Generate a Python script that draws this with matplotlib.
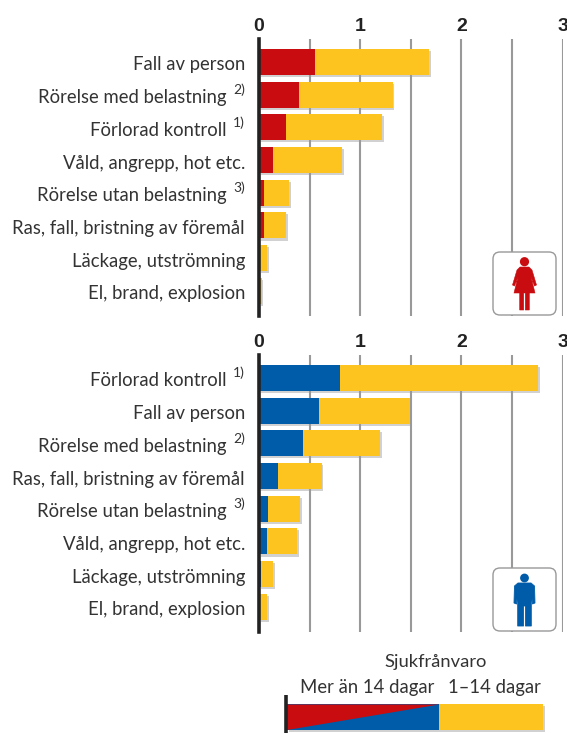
import matplotlib
matplotlib.use('Agg')
import matplotlib.pyplot as plt
import matplotlib.patheffects as pe
from matplotlib.patches import FancyBboxPatch, Circle, Polygon
import numpy as np

plt.rcParams['font.family'] = ['Lato', 'DejaVu Sans']

# kvinnor
labels_w = ['Fall av person', 'Rörelse med belastning', 'Förlorad kontroll',
            'Våld, angrepp, hot etc.', 'Rörelse utan belastning',
            'Ras, fall, bristning av föremål', 'Läckage, utströmning',
            'El, brand, explosion']
notes_w = ['', '2)', '1)', '', '3)', '', '', '']
long_w = [0.555, 0.40, 0.27, 0.14, 0.05, 0.05, 0.01, 0.005]
total_w = [1.68, 1.32, 1.22, 0.82, 0.30, 0.27, 0.08, 0.025]

# män
labels_m = ['Förlorad kontroll', 'Fall av person', 'Rörelse med belastning',
            'Ras, fall, bristning av föremål', 'Rörelse utan belastning',
            'Våld, angrepp, hot etc.', 'Läckage, utströmning',
            'El, brand, explosion']
notes_m = ['1)', '', '2)', '', '3)', '', '', '']
long_m = [0.80, 0.59, 0.43, 0.19, 0.09, 0.08, 0.02, 0.005]
total_m = [2.76, 1.49, 1.20, 0.62, 0.41, 0.38, 0.14, 0.08]

RED = '#c80c0f'
BLUE = '#005ca9'
YELLOW = '#fdc41f'
TXT = '#333333'
W, H = 567, 733
shadow = [pe.SimplePatchShadow(offset=(1.2, -1.5), shadow_rgbFace='#999999', alpha=0.45), pe.Normal()]

fig = plt.figure(figsize=(W / 100, H / 100), dpi=100)


def px_axes(x0, y0, x1, y1):
    return fig.add_axes([x0 / W, 1 - y1 / H, (x1 - x0) / W, (y1 - y0) / H])


def panel(y0, y1, labels, notes, long_abs, total, color):
    ax = px_axes(259, y0, 562.5, y1)
    ax.set_xlim(0, 3)
    ax.set_ylim(7.77, -0.70)
    pos = np.arange(len(labels))
    ax.set_axisbelow(True)
    ax.barh(pos, total, height=0.8, color=YELLOW, path_effects=shadow, zorder=3)
    ax.barh(pos, long_abs, height=0.8, color=color, zorder=4)
    ax.set_xticks(np.arange(0, 3.01, 0.5))
    ax.set_xticklabels(['0', '', '1', '', '2', '', '3'], family='Liberation Sans',
                       fontweight='bold', fontsize=14, color='#222222')
    ax.xaxis.tick_top()
    ax.tick_params(axis='x', length=0, pad=3)
    ax.set_yticks([])
    ax.grid(axis='x', color='#999999', lw=1.5)
    for s in ['right', 'top', 'bottom']:
        ax.spines[s].set_visible(False)
    ax.spines['left'].set_linewidth(2.6)
    ax.spines['left'].set_color('#222222')
    ax.spines['left'].set_zorder(6)
    for i, (lab, note) in enumerate(zip(labels, notes)):
        off = -32 if note else -14
        ax.annotate(lab, (0, i), xytext=(off, -3), textcoords='offset pixels',
                    ha='right', va='center', fontsize=13.35, color=TXT, annotation_clip=False)
        if note:
            ax.annotate(note, (0, i), xytext=(-14, 5), textcoords='offset pixels',
                        ha='right', va='center', fontsize=10, color=TXT, annotation_clip=False)
    return ax


panel(39, 316, labels_w, notes_w, long_w, total_w, RED)
panel(355, 632, labels_m, notes_m, long_m, total_m, BLUE)

# overlay i pixlar för ikoner
ov = fig.add_axes([0, 0, 1, 1], zorder=10)
ov.set_xlim(0, W)
ov.set_ylim(H, 0)
ov.axis('off')
ov.patch.set_alpha(0)


def box(y):
    ov.add_patch(FancyBboxPatch((493, y), 63, 63, boxstyle='round,pad=0,rounding_size=7',
                                fc='white', ec='#999999', lw=1.0, zorder=1))


box(252)
box(568)

# kvinna
cx = 524.5
ov.add_patch(Circle((cx, 261.7), 4.6, fc=RED, ec='none', zorder=2))
ov.add_patch(Polygon([(cx - 4.5, 267), (cx + 4.5, 267), (cx + 7.5, 270), (cx + 12, 285), (cx + 10, 286),
                      (cx + 6.5, 277), (cx + 10.5, 293), (cx + 4.8, 293), (cx + 4.8, 310), (cx + 0.8, 310),
                      (cx + 0.8, 293), (cx - 0.8, 293), (cx - 0.8, 310), (cx - 4.8, 310), (cx - 4.8, 293),
                      (cx - 10.5, 293), (cx - 6.5, 277), (cx - 10, 286), (cx - 12, 285), (cx - 7.5, 270)],
                     closed=True, fc=RED, ec=RED, lw=0.4, joinstyle='round', zorder=2))
# man
ov.add_patch(Circle((cx, 578), 4.4, fc=BLUE, ec='none', zorder=2))
ov.add_patch(Polygon([(cx - 6.5, 583), (cx + 6.5, 583), (cx + 10, 586), (cx + 10.5, 603), (cx + 8, 604),
                      (cx + 6.8, 591), (cx + 6.8, 626), (cx + 1, 626), (cx + 1, 606), (cx - 1, 606),
                      (cx - 1, 626), (cx - 6.8, 626), (cx - 6.8, 591), (cx - 8, 604), (cx - 10.5, 603),
                      (cx - 10, 586)],
                     closed=True, fc=BLUE, ec=BLUE, lw=0.6, joinstyle='round', zorder=2))

# teckenförklaring
ov.text(436, 662, 'Sjukfrånvaro', ha='center', va='center', fontsize=13.2, color=TXT)
ov.text(434, 688, 'Mer än 14 dagar', ha='right', va='center', fontsize=13.35, color=TXT)
ov.text(541, 688, '1–14 dagar', ha='right', va='center', fontsize=13.35, color=TXT)
ov.add_patch(Polygon([(287, 704), (543, 704), (543, 730), (287, 730)], closed=True, fc=YELLOW,
                     ec='none', path_effects=shadow, zorder=2))
ov.add_patch(Polygon([(287, 704), (439, 704), (439, 730), (287, 730)], closed=True, fc=BLUE, ec='none', zorder=3))
ov.add_patch(Polygon([(287, 704.5), (439, 704.5), (287, 730)], closed=True, fc=RED, ec='none', zorder=4))
ov.plot([285.5, 285.5], [695, 733], color='#222222', lw=2.6, zorder=5, solid_capstyle='butt')

fig.savefig('out.png', dpi=100)
